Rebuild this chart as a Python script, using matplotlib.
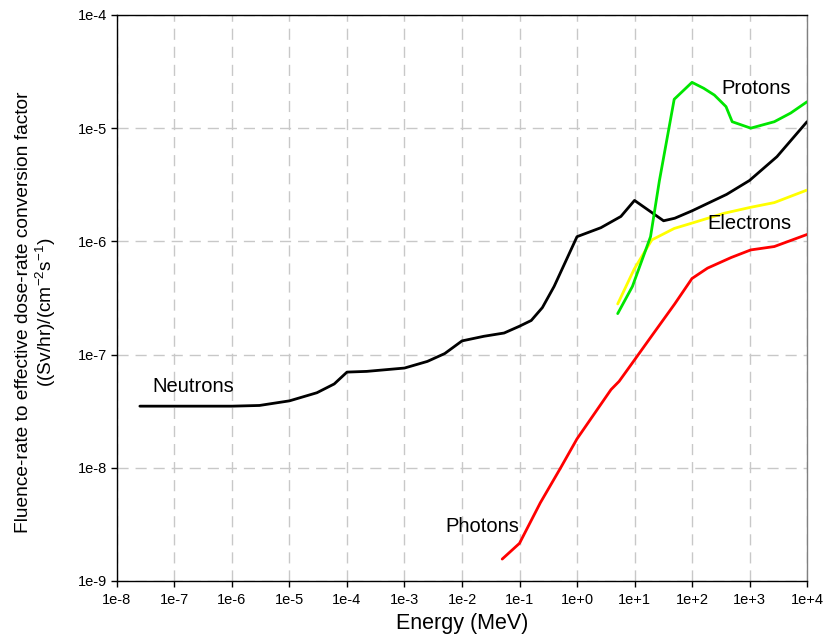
import numpy as np
import matplotlib
matplotlib.use("Agg")
import matplotlib.pyplot as plt

plt.rcParams['font.family'] = ['Liberation Sans', 'DejaVu Sans']
plt.rcParams['mathtext.fontset'] = 'custom'
plt.rcParams['mathtext.rm'] = 'Liberation Sans'
plt.rcParams['mathtext.it'] = 'Liberation Sans:italic'

# Datos (MeV, (Sv/hr)/(cm^-2 s^-1))
neutron_e = [2.5e-8, 1e-6, 3e-6, 1e-5, 3e-5, 6e-5, 1e-4, 2.2e-4, 1e-3, 2.5e-3, 5e-3,
             1e-2, 2.4e-2, 5.4e-2, 1e-1, 1.6e-1, 2.5e-1, 4e-1, 6.3e-1, 1.0,
             2.6, 5.8, 10.0, 32.0, 50.0, 100.0, 400.0, 1000.0, 3000.0, 1e4]
neutron_f = [3.5e-8, 3.5e-8, 3.55e-8, 3.9e-8, 4.6e-8, 5.5e-8, 7.0e-8, 7.1e-8, 7.6e-8, 8.7e-8, 1.02e-7,
             1.32e-7, 1.45e-7, 1.55e-7, 1.78e-7, 2.0e-7, 2.6e-7, 4.0e-7, 6.6e-7, 1.1e-6,
             1.32e-6, 1.66e-6, 2.3e-6, 1.52e-6, 1.6e-6, 1.86e-6, 2.6e-6, 3.45e-6, 5.6e-6, 1.14e-5]

proton_e = [5.1, 9.2, 19.0, 27.0, 49.0, 100.0, 160.0, 245.0, 390.0, 500.0, 1050.0, 2700.0, 5200.0, 1e4]
proton_f = [2.3e-7, 4.0e-7, 1.1e-6, 3.4e-6, 1.8e-5, 2.54e-5, 2.25e-5, 1.96e-5, 1.55e-5, 1.14e-5,
            1.0e-5, 1.14e-5, 1.36e-5, 1.71e-5]

electron_e = [5.1, 9.9, 20.0, 49.0, 100.0, 360.0, 1050.0, 2700.0, 1e4]
electron_f = [2.8e-7, 5.7e-7, 1.03e-6, 1.3e-6, 1.45e-6, 1.77e-6, 2.0e-6, 2.2e-6, 2.84e-6]

photon_e = [0.05, 0.1, 0.23, 0.52, 1.0, 3.9, 5.4, 9.9, 19.5, 50.0, 100.0, 186.0, 480.0, 1050.0, 2700.0, 1e4]
photon_f = [1.56e-9, 2.15e-9, 4.9e-9, 1.0e-8, 1.8e-8, 4.9e-8, 5.8e-8, 8.9e-8, 1.44e-7, 2.8e-7,
            4.7e-7, 5.8e-7, 7.2e-7, 8.4e-7, 9.0e-7, 1.15e-6]

xticks = [1e-8, 1e-7, 1e-6, 1e-5, 1e-4, 1e-3, 1e-2, 1e-1, 1e0, 1e1, 1e2, 1e3, 1e4]
xlabels = ['1e-8', '1e-7', '1e-6', '1e-5', '1e-4', '1e-3', '1e-2', '1e-1',
           '1e+0', '1e+1', '1e+2', '1e+3', '1e+4']
yticks = [1e-9, 1e-8, 1e-7, 1e-6, 1e-5, 1e-4]
ylabels = ['1e-9', '1e-8', '1e-7', '1e-6', '1e-5', '1e-4']

fig = plt.figure(figsize=(8.25, 6.37), dpi=100)
ax = fig.add_axes([0.1418, 0.088, 0.8364, 0.8885])

lw = 2.0
ax.plot(neutron_e, neutron_f, color='black', lw=lw, solid_capstyle='round', zorder=3)
ax.plot(photon_e, photon_f, color='#ff0000', lw=lw, solid_capstyle='round', zorder=3)
ax.plot(electron_e, electron_f, color='#ffff00', lw=lw, solid_capstyle='round', zorder=3)
ax.plot(proton_e, proton_f, color='#00e600', lw=lw, solid_capstyle='round', zorder=3)

ax.set_xscale('log')
ax.set_yscale('log')
ax.set_xlim(1e-8, 1e4)
ax.set_ylim(1e-9, 1e-4)

ax.set_xticks(xticks)
ax.set_xticklabels(xlabels)
ax.set_yticks(yticks)
ax.set_yticklabels(ylabels)
ax.minorticks_off()
ax.tick_params(axis='both', direction='out', length=4, width=1, labelsize=10.5)
ax.tick_params(axis='x', pad=5)
ax.tick_params(axis='y', pad=3)

ax.grid(True, color='#c8c8c8', linestyle=(0, (8, 5)), linewidth=1, zorder=0)
ax.set_axisbelow(True)

for s in ['left', 'bottom', 'top']:
    ax.spines[s].set_color('black')
    ax.spines[s].set_linewidth(1)
ax.spines['right'].set_color('#808080')
ax.spines['right'].set_linewidth(1)

ax.set_xlabel('Energy (MeV)', fontsize=15.5, labelpad=4)
ax.set_ylabel('Fluence-rate to effective dose-rate conversion factor\n((Sv/hr)/(cm$^{-2}$s$^{-1}$)',
              fontsize=13.8, linespacing=1.15)
ax.yaxis.set_label_coords(-0.085, 0.475)

ax.text(320, 2.26e-5, 'Protons', fontsize=14.5, ha='left', va='center')
ax.text(182, 1.43e-6, 'Electrons', fontsize=14.5, ha='left', va='center')
ax.text(4.1e-8, 5.2e-8, 'Neutrons', fontsize=14.5, ha='left', va='center')
ax.text(5.2e-3, 3.0e-9, 'Photons', fontsize=14.5, ha='left', va='center')

fig.savefig('out.png', dpi=100)
